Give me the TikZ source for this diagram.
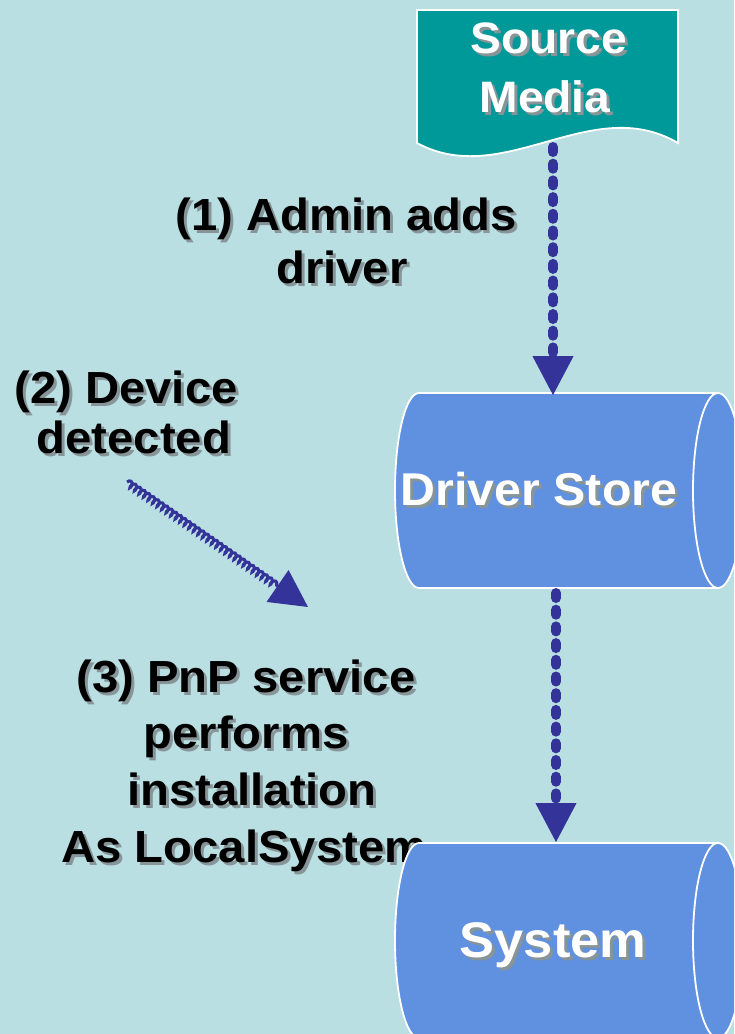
\documentclass[tikz,border=0pt]{standalone}
\usepackage{fontspec}
\setmainfont{Liberation Sans}[FakeStretch=1.05]
\usetikzlibrary{arrows.meta,decorations.pathmorphing}
\definecolor{bgc}{RGB}{185,223,226}
\definecolor{tealc}{RGB}{0,153,153}
\definecolor{cylc}{RGB}{96,144,224}
\definecolor{arrc}{RGB}{51,51,153}
\definecolor{shdc}{RGB}{135,148,152}
\newcommand\shd[1]{\makebox[0pt][l]{\hspace{3pt}\raisebox{-3pt}{\textcolor{shdc}{#1}}}#1}
\newcommand\shtxt[5]{\node[#4] (#1) at (#2,#3) {\shd{#5}};}
\begin{document}
\begin{tikzpicture}[x=1pt,y=-1pt,
  blk/.style={anchor=base,inner sep=0pt,text=black,font=\bfseries\fontsize{45}{52}\selectfont},
  whtA/.style={anchor=base,inner sep=0pt,text=white,font=\bfseries\fontsize{44}{50}\selectfont},
  whtB/.style={anchor=base,inner sep=0pt,text=white,font=\bfseries\fontsize{46}{52}\selectfont},
  whtC/.style={anchor=base,inner sep=0pt,text=white,font=\bfseries\fontsize{50}{56}\selectfont},
  cyl/.style={fill=cylc,draw=white,line width=1.8pt},
  media/.style={fill=tealc,draw=white,line width=1.8pt},
  dotarrow/.style={draw=arrc,line width=10pt,line cap=round,dash pattern=on 5pt off 11.7pt,
    -{Triangle[length=40pt,width=38pt]},arrc},
  coilarrow/.style={draw=arrc,line width=3pt,decorate,
    decoration={coil,amplitude=3pt,segment length=5.5pt,aspect=0.5,post length=34pt},
    -{Triangle[length=37pt,width=38pt]}}]
\useasboundingbox (0,0) rectangle (734,1034);
\fill[bgc] (0,0) rectangle (734,1034);
\clip (0,0) rectangle (734,1034);

% labels
\shtxt{l1a}{346}{230}{blk}{(1) Admin adds}
\shtxt{l1b}{342}{283}{blk}{driver}
\shtxt{l2a}{126}{403}{blk}{(2) Device}
\shtxt{l2b}{134}{453}{blk}{detected}
\shtxt{l3a}{246}{692}{blk}{(3) PnP service}
\shtxt{l3b}{246}{748}{blk}{performs}
\shtxt{l3c}{252}{805}{blk}{installation}
\shtxt{l3d}{244}{862}{blk}{As LocalSystem}

% source media
\path[media] (417,10) -- (678,10) -- (678,143)
  .. controls (591,92) and (504,190) .. (417,143) -- cycle;
\shtxt{srcA}{549}{53}{whtA}{Source}
\shtxt{srcB}{545}{112}{whtA}{Media}

% driver store cylinder
\path[cyl] (419,393) -- (718,393)
  .. controls (731.8,393) and (743,436.65) .. (743,490.5)
  .. controls (743,544.35) and (731.8,588) .. (718,588) -- (419,588)
  .. controls (405.75,588) and (395,544.35) .. (395,490.5)
  .. controls (395,436.65) and (405.75,393) .. (419,393) -- cycle;
\draw[white,line width=1.8pt] (718,393)
  .. controls (704.2,393) and (693,436.65) .. (693,490.5)
  .. controls (693,544.35) and (704.2,588) .. (718,588);
\shtxt{ds}{539}{505}{whtB}{Driver Store}

% system cylinder
\path[cyl] (419,843) -- (718,843)
  .. controls (731.8,843) and (743,886.65) .. (743,940.5)
  .. controls (743,994.35) and (731.8,1038) .. (718,1038) -- (419,1038)
  .. controls (405.75,1038) and (395,994.35) .. (395,940.5)
  .. controls (395,886.65) and (405.75,843) .. (419,843) -- cycle;
\draw[white,line width=1.8pt] (718,843)
  .. controls (704.2,843) and (693,886.65) .. (693,940.5)
  .. controls (693,994.35) and (704.2,1038) .. (718,1038);
\shtxt{sys}{553}{957}{whtC}{System}

% connector end points
\coordinate (srcb) at (553,147);
\coordinate (dstop) at (553,396);
\coordinate (dsbot) at (556,593);
\coordinate (systop) at (556,843);
\coordinate (devs) at (127,482);
\coordinate (deve) at (308,607);

\draw[dotarrow] (srcb) -- (dstop);
\draw[dotarrow] (dsbot) -- (systop);
\draw[coilarrow] (devs) -- (deve);
\end{tikzpicture}
\end{document}
